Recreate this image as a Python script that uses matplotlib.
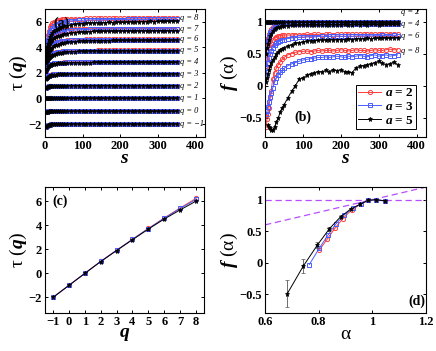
import numpy as np
import matplotlib

matplotlib.use("Agg")

import matplotlib.pyplot as plt
from matplotlib.ticker import FuncFormatter

plt.rcParams["font.family"] = ["Liberation Serif", "DejaVu Serif"]
plt.rcParams["font.weight"] = "bold"
plt.rcParams["mathtext.fontset"] = "custom"
plt.rcParams["mathtext.it"] = "Liberation Serif:italic:bold"
plt.rcParams["mathtext.rm"] = "Liberation Serif:bold"
plt.rcParams["mathtext.bf"] = "Liberation Serif:bold"

# ---------------------------------------------------------------- data
# window size s (shared by panels a and b)
S = [3, 5, 7, 10, 13, 16, 20, 25, 30, 35, 40, 45, 50,
     60, 70, 80, 90, 100, 110, 120, 130, 140, 150,
     160, 170, 180, 190, 200, 210, 220, 230, 240, 250,
     260, 270, 280, 290, 300, 310, 320, 330, 340, 350]

Q_VALUES = [-1, 0, 1, 2, 3, 4, 5, 6, 7, 8]

# tau(q, s), rows q = -1 .. 8
TAU_A2 = [
    [-2.20, -2.13, -2.09, -2.06, -2.04, -2.03, -2.02, -2.01, -2.01, -2.00, -2.00, -2.00, -2.00,
     -2.00, -2.00, -1.99, -2.00, -2.00, -2.00, -2.00, -1.99, -2.00, -2.00,
     -2.00, -2.00, -2.00, -1.99, -2.00, -2.00, -2.00, -2.00, -2.00, -1.99,
     -2.00, -2.00, -2.00, -2.00, -2.00, -2.00, -1.99, -2.00, -2.00, -2.00],
    [-1.03, -1.02, -1.01, -1.01, -1.00, -1.00, -1.00, -1.00, -1.00, -1.00, -1.00, -1.00, -1.00,
     -1.00, -1.00, -1.00, -0.99, -1.00, -1.00, -1.00, -1.00, -1.00, -1.00,
     -1.00, -0.99, -1.00, -1.00, -1.00, -1.00, -1.00, -1.00, -1.00, -1.00,
     -1.00, -1.00, -1.00, -1.00, -0.99, -1.00, -1.00, -1.00, -1.00, -1.00],
    [0.02, 0.01, 0.01, 0.00, 0.00, 0.00, 0.00, 0.00, 0.00, 0.00, 0.00, 0.00, 0.00,
     0.00, 0.00, 0.00, 0.00, 0.00, 0.01, 0.00, 0.00, 0.00, 0.00,
     0.00, 0.00, 0.00, 0.00, 0.00, 0.00, 0.00, 0.00, 0.01, 0.00,
     0.00, 0.00, 0.00, 0.00, 0.00, 0.00, 0.00, 0.00, 0.00, 0.00],
    [0.86, 0.91, 0.94, 0.96, 0.97, 0.98, 0.98, 0.99, 0.99, 0.99, 1.00, 1.00, 1.00,
     1.00, 1.00, 1.00, 1.00, 1.00, 1.00, 1.01, 1.00, 1.00, 1.00,
     1.00, 1.00, 1.00, 1.00, 1.00, 1.00, 1.00, 1.01, 1.00, 1.00,
     1.00, 1.00, 1.00, 1.00, 1.00, 1.00, 1.00, 1.00, 1.00, 1.00],
    [1.62, 1.71, 1.76, 1.80, 1.83, 1.85, 1.87, 1.88, 1.89, 1.90, 1.90, 1.91, 1.91,
     1.92, 1.92, 1.92, 1.93, 1.93, 1.93, 1.93, 1.93, 1.93, 1.93,
     1.93, 1.93, 1.93, 1.93, 1.93, 1.93, 1.93, 1.93, 1.93, 1.93,
     1.93, 1.93, 1.93, 1.93, 1.93, 1.93, 1.93, 1.93, 1.93, 1.93],
    [2.30, 2.45, 2.54, 2.61, 2.66, 2.69, 2.72, 2.75, 2.77, 2.78, 2.79, 2.80, 2.81,
     2.82, 2.83, 2.83, 2.84, 2.84, 2.84, 2.85, 2.85, 2.85, 2.85,
     2.85, 2.85, 2.85, 2.85, 2.85, 2.85, 2.85, 2.85, 2.85, 2.85,
     2.85, 2.85, 2.85, 2.85, 2.85, 2.85, 2.85, 2.85, 2.85, 2.85],
    [2.90, 3.08, 3.20, 3.31, 3.39, 3.45, 3.51, 3.56, 3.60, 3.63, 3.65, 3.67, 3.68,
     3.70, 3.71, 3.72, 3.73, 3.73, 3.74, 3.74, 3.74, 3.75, 3.75,
     3.75, 3.75, 3.75, 3.75, 3.75, 3.75, 3.75, 3.75, 3.75, 3.75,
     3.75, 3.75, 3.75, 3.75, 3.75, 3.75, 3.75, 3.75, 3.75, 3.75],
    [3.35, 3.60, 3.78, 3.95, 4.07, 4.16, 4.25, 4.33, 4.39, 4.44, 4.47, 4.50, 4.52,
     4.55, 4.57, 4.58, 4.59, 4.60, 4.61, 4.61, 4.62, 4.62, 4.62,
     4.63, 4.63, 4.63, 4.63, 4.63, 4.63, 4.63, 4.63, 4.63, 4.63,
     4.63, 4.63, 4.63, 4.63, 4.63, 4.63, 4.63, 4.63, 4.63, 4.63],
    [3.75, 4.10, 4.35, 4.60, 4.78, 4.90, 5.02, 5.12, 5.20, 5.25, 5.29, 5.32, 5.34,
     5.37, 5.39, 5.41, 5.42, 5.43, 5.44, 5.44, 5.45, 5.45, 5.45,
     5.46, 5.46, 5.46, 5.46, 5.46, 5.46, 5.46, 5.46, 5.46, 5.46,
     5.46, 5.46, 5.46, 5.46, 5.46, 5.46, 5.46, 5.46, 5.46, 5.46],
    [4.10, 4.60, 4.95, 5.30, 5.55, 5.72, 5.87, 5.99, 6.07, 6.12, 6.15, 6.17, 6.19,
     6.21, 6.22, 6.23, 6.24, 6.24, 6.25, 6.25, 6.25, 6.26, 6.26,
     6.26, 6.26, 6.26, 6.26, 6.26, 6.26, 6.26, 6.26, 6.26, 6.26,
     6.26, 6.26, 6.26, 6.26, 6.26, 6.26, 6.26, 6.26, 6.26, 6.26],
]

TAU_A3 = [
    [-2.21, -2.14, -2.10, -2.06, -2.04, -2.03, -2.02, -2.02, -2.01, -2.01, -2.00, -2.00, -2.00,
     -2.00, -2.00, -2.00, -2.00, -1.99, -2.00, -2.00, -2.00, -2.00, -2.00,
     -2.00, -2.00, -2.00, -2.00, -2.00, -1.99, -2.00, -2.00, -2.00, -2.00,
     -2.00, -2.00, -2.00, -1.99, -2.00, -2.00, -2.00, -2.00, -2.00, -2.00],
    [-1.03, -1.02, -1.01, -1.01, -1.01, -1.00, -1.00, -1.00, -1.00, -1.00, -1.00, -1.00, -1.00,
     -1.00, -1.00, -1.00, -1.00, -1.00, -1.00, -1.00, -1.00, -0.99, -1.00,
     -1.00, -1.00, -1.00, -1.00, -1.00, -1.00, -1.00, -1.00, -1.00, -1.00,
     -1.00, -1.00, -1.00, -1.00, -1.00, -1.00, -1.00, -1.00, -1.00, -1.00],
    [0.02, 0.01, 0.01, 0.01, 0.00, 0.00, 0.00, 0.00, 0.00, 0.00, 0.00, 0.00, 0.00,
     0.00, 0.00, 0.00, 0.00, 0.00, 0.00, 0.00, 0.00, 0.00, 0.00,
     0.00, 0.00, 0.00, 0.00, 0.00, 0.00, 0.00, 0.00, 0.00, 0.00,
     0.00, 0.00, 0.00, 0.00, 0.00, 0.00, 0.00, 0.00, 0.00, 0.00],
    [0.84, 0.90, 0.93, 0.95, 0.96, 0.97, 0.98, 0.98, 0.99, 0.99, 0.99, 1.00, 1.00,
     1.00, 1.00, 1.00, 1.00, 1.00, 1.00, 1.00, 1.00, 1.00, 1.00,
     1.00, 1.00, 1.00, 1.00, 1.00, 1.00, 1.00, 1.00, 1.00, 1.00,
     1.00, 1.00, 1.00, 1.00, 1.00, 1.00, 1.00, 1.00, 1.00, 1.00],
    [1.58, 1.68, 1.74, 1.79, 1.82, 1.84, 1.86, 1.88, 1.89, 1.89, 1.90, 1.90, 1.91,
     1.91, 1.92, 1.92, 1.92, 1.92, 1.93, 1.93, 1.93, 1.93, 1.93,
     1.93, 1.93, 1.93, 1.93, 1.93, 1.93, 1.93, 1.93, 1.93, 1.93,
     1.93, 1.93, 1.93, 1.93, 1.93, 1.93, 1.93, 1.93, 1.93, 1.93],
    [2.25, 2.40, 2.50, 2.58, 2.63, 2.67, 2.70, 2.73, 2.75, 2.77, 2.78, 2.79, 2.80,
     2.81, 2.82, 2.83, 2.83, 2.83, 2.84, 2.84, 2.84, 2.84, 2.84,
     2.84, 2.84, 2.84, 2.84, 2.84, 2.84, 2.84, 2.84, 2.84, 2.84,
     2.84, 2.84, 2.84, 2.84, 2.84, 2.84, 2.84, 2.84, 2.84, 2.84],
    [2.85, 3.02, 3.14, 3.26, 3.35, 3.41, 3.48, 3.54, 3.58, 3.61, 3.64, 3.66, 3.67,
     3.69, 3.70, 3.71, 3.72, 3.72, 3.73, 3.73, 3.73, 3.74, 3.74,
     3.74, 3.74, 3.74, 3.74, 3.74, 3.74, 3.74, 3.74, 3.74, 3.74,
     3.74, 3.74, 3.74, 3.74, 3.74, 3.74, 3.74, 3.74, 3.74, 3.74],
    [3.30, 3.52, 3.69, 3.86, 3.98, 4.08, 4.17, 4.26, 4.33, 4.38, 4.42, 4.45, 4.48,
     4.51, 4.53, 4.55, 4.56, 4.57, 4.58, 4.58, 4.59, 4.59, 4.59,
     4.60, 4.60, 4.60, 4.60, 4.60, 4.60, 4.60, 4.60, 4.60, 4.60,
     4.60, 4.60, 4.60, 4.60, 4.60, 4.60, 4.60, 4.60, 4.60, 4.60],
    [3.65, 3.95, 4.17, 4.40, 4.57, 4.70, 4.83, 4.95, 5.04, 5.11, 5.16, 5.20, 5.23,
     5.28, 5.31, 5.34, 5.36, 5.37, 5.38, 5.39, 5.40, 5.40, 5.41,
     5.41, 5.41, 5.42, 5.42, 5.42, 5.42, 5.42, 5.42, 5.42, 5.42,
     5.42, 5.42, 5.42, 5.42, 5.42, 5.42, 5.42, 5.42, 5.42, 5.42],
    [3.90, 4.30, 4.60, 4.92, 5.15, 5.32, 5.49, 5.64, 5.75, 5.83, 5.89, 5.93, 5.97,
     6.02, 6.05, 6.08, 6.10, 6.11, 6.12, 6.13, 6.14, 6.14, 6.15,
     6.15, 6.15, 6.16, 6.16, 6.16, 6.16, 6.17, 6.17, 6.17, 6.17,
     6.17, 6.17, 6.17, 6.17, 6.17, 6.17, 6.17, 6.17, 6.17, 6.17],
]

TAU_A5 = [
    [-2.24, -2.16, -2.11, -2.07, -2.05, -2.03, -2.02, -2.02, -2.01, -2.01, -2.00, -2.00, -2.00,
     -2.00, -2.00, -2.00, -2.00, -2.00, -2.00, -1.99, -2.00, -2.00, -2.00,
     -2.00, -2.00, -2.00, -2.00, -2.00, -2.00, -2.00, -1.99, -2.00, -2.00,
     -2.00, -2.00, -2.00, -2.00, -2.00, -2.00, -2.00, -2.00, -1.99, -2.00],
    [-1.04, -1.02, -1.02, -1.01, -1.01, -1.00, -1.00, -1.00, -1.00, -1.00, -1.00, -1.00, -1.00,
     -1.00, -1.00, -1.00, -1.00, -1.00, -1.00, -1.00, -1.00, -1.00, -1.00,
     -1.00, -1.00, -1.00, -1.00, -0.99, -1.00, -1.00, -1.00, -1.00, -1.00,
     -1.00, -1.00, -1.00, -1.00, -1.00, -1.00, -1.00, -1.00, -1.00, -1.00],
    [0.02, 0.01, 0.01, 0.01, 0.00, 0.00, 0.00, 0.00, 0.00, 0.00, 0.00, 0.00, 0.00,
     0.00, 0.00, 0.00, 0.00, 0.00, 0.00, 0.00, 0.00, 0.00, 0.00,
     0.00, 0.00, 0.00, 0.00, 0.00, 0.00, 0.00, 0.00, 0.00, 0.00,
     0.00, 0.00, 0.00, 0.00, 0.00, 0.00, 0.00, 0.00, 0.00, 0.00],
    [0.80, 0.87, 0.91, 0.94, 0.95, 0.96, 0.97, 0.98, 0.98, 0.98, 0.99, 0.99, 0.99,
     0.99, 0.99, 0.99, 0.99, 0.99, 0.99, 0.99, 0.99, 0.99, 0.99,
     0.99, 0.99, 0.99, 0.99, 0.99, 0.99, 0.99, 0.99, 0.99, 0.99,
     0.99, 0.99, 0.99, 0.99, 0.99, 0.99, 0.99, 0.99, 0.99, 0.99],
    [1.50, 1.62, 1.69, 1.75, 1.79, 1.81, 1.84, 1.85, 1.86, 1.87, 1.88, 1.88, 1.89,
     1.89, 1.90, 1.90, 1.90, 1.90, 1.91, 1.91, 1.91, 1.91, 1.91,
     1.91, 1.91, 1.91, 1.91, 1.91, 1.91, 1.91, 1.91, 1.91, 1.91,
     1.91, 1.91, 1.91, 1.91, 1.91, 1.91, 1.91, 1.91, 1.91, 1.91],
    [2.15, 2.32, 2.43, 2.52, 2.58, 2.62, 2.66, 2.69, 2.71, 2.73, 2.74, 2.75, 2.76,
     2.77, 2.78, 2.79, 2.79, 2.80, 2.80, 2.80, 2.81, 2.81, 2.81,
     2.81, 2.81, 2.81, 2.81, 2.81, 2.81, 2.81, 2.81, 2.81, 2.81,
     2.81, 2.81, 2.81, 2.81, 2.81, 2.81, 2.81, 2.81, 2.81, 2.81],
    [2.75, 2.90, 3.01, 3.13, 3.22, 3.29, 3.36, 3.43, 3.48, 3.52, 3.55, 3.58, 3.60,
     3.63, 3.65, 3.66, 3.67, 3.68, 3.69, 3.69, 3.69, 3.70, 3.70,
     3.70, 3.70, 3.70, 3.70, 3.70, 3.70, 3.70, 3.70, 3.70, 3.70,
     3.70, 3.70, 3.70, 3.70, 3.70, 3.70, 3.70, 3.70, 3.70, 3.70],
    [3.15, 3.35, 3.50, 3.66, 3.78, 3.87, 3.97, 4.07, 4.14, 4.20, 4.25, 4.29, 4.32,
     4.37, 4.41, 4.44, 4.46, 4.48, 4.49, 4.50, 4.51, 4.51, 4.52,
     4.52, 4.52, 4.53, 4.53, 4.53, 4.53, 4.53, 4.54, 4.53, 4.54,
     4.54, 4.54, 4.54, 4.54, 4.54, 4.54, 4.54, 4.54, 4.54, 4.54],
    [3.45, 3.75, 3.95, 4.15, 4.32, 4.45, 4.58, 4.70, 4.79, 4.86, 4.91, 4.96, 5.00,
     5.06, 5.10, 5.14, 5.17, 5.19, 5.21, 5.22, 5.23, 5.24, 5.25,
     5.25, 5.26, 5.26, 5.27, 5.27, 5.28, 5.27, 5.28, 5.29, 5.28,
     5.29, 5.29, 5.30, 5.29, 5.30, 5.30, 5.30, 5.30, 5.30, 5.30],
    [3.60, 4.00, 4.25, 4.55, 4.76, 4.92, 5.08, 5.23, 5.35, 5.44, 5.51, 5.57, 5.62,
     5.69, 5.74, 5.78, 5.81, 5.84, 5.86, 5.87, 5.89, 5.90, 5.89,
     5.91, 5.93, 5.92, 5.94, 5.95, 5.93, 5.96, 5.97, 5.95, 5.98,
     6.00, 5.98, 6.01, 6.00, 6.02, 6.01, 6.03, 6.02, 6.04, 6.03],
]

# f(alpha, s), rows q = 2, 4, 6, 8
Q_B = [2, 4, 6, 8]
F_A2 = [
    [1.00, 1.00, 1.00, 1.00, 1.00, 1.00, 1.00, 1.00, 1.00, 1.00, 1.00, 1.00, 1.00,
     1.00, 1.00, 1.00, 1.00, 1.00, 1.00, 1.00, 1.00, 1.00, 1.00,
     1.00, 1.00, 1.00, 1.00, 1.00, 1.00, 1.00, 1.00, 1.00, 1.00,
     1.00, 1.00, 1.00, 1.00, 1.00, 1.00, 1.00, 1.00, 1.00, 1.00],
    [0.62, 0.69, 0.75, 0.81, 0.86, 0.89, 0.92, 0.94, 0.95, 0.96, 0.965, 0.97, 0.97,
     0.975, 0.975, 0.98, 0.98, 0.98, 0.98, 0.98, 0.98, 0.98, 0.98,
     0.98, 0.98, 0.98, 0.98, 0.98, 0.98, 0.98, 0.98, 0.98, 0.98,
     0.98, 0.98, 0.98, 0.98, 0.98, 0.98, 0.98, 0.98, 0.98, 0.98],
    [0.30, 0.42, 0.50, 0.58, 0.63, 0.67, 0.71, 0.74, 0.76, 0.77, 0.78, 0.785, 0.79,
     0.79, 0.79, 0.795, 0.79, 0.795, 0.80, 0.795, 0.80, 0.80, 0.79,
     0.80, 0.80, 0.795, 0.80, 0.80, 0.80, 0.805, 0.80, 0.80, 0.80,
     0.805, 0.80, 0.81, 0.80, 0.805, 0.81, 0.80, 0.81, 0.81, 0.81],
    [-0.65, -0.52, -0.45, -0.35, -0.20, -0.08, 0.10, 0.20, 0.28, 0.33, 0.37, 0.41, 0.44,
     0.48, 0.50, 0.52, 0.53, 0.535, 0.54, 0.53, 0.54, 0.55, 0.54,
     0.55, 0.55, 0.54, 0.55, 0.56, 0.55, 0.54, 0.55, 0.56, 0.55,
     0.55, 0.54, 0.55, 0.56, 0.55, 0.55, 0.56, 0.57, 0.56, 0.56],
]
F_A3 = [
    [1.00, 1.00, 1.00, 1.00, 1.00, 1.00, 1.00, 1.00, 1.00, 1.00, 1.00, 1.00, 1.00,
     1.00, 1.00, 1.00, 1.00, 1.00, 1.00, 1.00, 1.00, 1.00, 1.00,
     1.00, 1.00, 1.00, 1.00, 1.00, 1.00, 1.00, 1.00, 1.00, 1.00,
     1.00, 1.00, 1.00, 1.00, 1.00, 1.00, 1.00, 1.00, 1.00, 1.00],
    [0.55, 0.63, 0.70, 0.77, 0.82, 0.86, 0.89, 0.915, 0.93, 0.94, 0.945, 0.95, 0.955,
     0.96, 0.96, 0.96, 0.965, 0.965, 0.965, 0.97, 0.97, 0.97, 0.97,
     0.97, 0.97, 0.97, 0.97, 0.97, 0.97, 0.97, 0.97, 0.97, 0.97,
     0.97, 0.97, 0.97, 0.97, 0.97, 0.97, 0.97, 0.97, 0.97, 0.97],
    [0.15, 0.27, 0.35, 0.43, 0.49, 0.54, 0.59, 0.63, 0.66, 0.68, 0.70, 0.71, 0.72,
     0.735, 0.745, 0.75, 0.755, 0.76, 0.76, 0.765, 0.76, 0.765, 0.77,
     0.765, 0.77, 0.77, 0.775, 0.77, 0.77, 0.775, 0.77, 0.775, 0.78,
     0.775, 0.78, 0.775, 0.78, 0.78, 0.785, 0.78, 0.78, 0.785, 0.78],
    [-0.45, -0.40, -0.33, -0.25, -0.18, -0.12, -0.04, 0.05, 0.12, 0.17, 0.21, 0.24, 0.27,
     0.31, 0.34, 0.36, 0.38, 0.40, 0.41, 0.42, 0.43, 0.44, 0.44,
     0.45, 0.44, 0.45, 0.46, 0.45, 0.44, 0.46, 0.45, 0.46, 0.47,
     0.46, 0.45, 0.47, 0.48, 0.46, 0.47, 0.48, 0.46, 0.47, 0.48],
]
F_A5 = [
    [1.00, 1.00, 1.00, 1.00, 1.00, 1.00, 1.00, 1.00, 1.00, 1.00, 1.00, 1.00, 1.00,
     1.00, 1.00, 1.00, 1.00, 1.00, 1.00, 1.00, 1.00, 1.00, 1.00,
     1.00, 1.00, 1.00, 1.00, 1.00, 1.00, 1.00, 1.00, 1.00, 1.00,
     1.00, 1.00, 1.00, 1.00, 1.00, 1.00, 1.00, 1.00, 1.00, 1.00],
    [0.50, 0.58, 0.65, 0.72, 0.77, 0.81, 0.85, 0.88, 0.90, 0.91, 0.92, 0.925, 0.93,
     0.935, 0.94, 0.94, 0.945, 0.945, 0.945, 0.95, 0.95, 0.945, 0.95,
     0.95, 0.95, 0.95, 0.95, 0.95, 0.955, 0.95, 0.95, 0.955, 0.95,
     0.955, 0.95, 0.955, 0.955, 0.95, 0.955, 0.955, 0.955, 0.955, 0.955],
    [0.05, 0.12, 0.18, 0.25, 0.30, 0.35, 0.40, 0.45, 0.49, 0.52, 0.55, 0.57, 0.59,
     0.62, 0.64, 0.66, 0.67, 0.68, 0.69, 0.70, 0.70, 0.71, 0.71,
     0.71, 0.72, 0.71, 0.72, 0.72, 0.72, 0.73, 0.72, 0.73, 0.73,
     0.73, 0.74, 0.73, 0.74, 0.74, 0.74, 0.75, 0.74, 0.75, 0.75],
    [np.nan, np.nan, -0.62, -0.65, -0.66, -0.70, -0.70, -0.64, -0.57, -0.50, -0.41, -0.35, -0.30,
     -0.19, -0.09, 0.00, 0.10, 0.12, 0.16, 0.18, 0.20, 0.22, 0.21,
     0.24, 0.22, 0.25, 0.23, 0.25, 0.22, 0.21, 0.20, 0.28, 0.30,
     0.31, 0.33, 0.34, 0.36, 0.38, 0.35, 0.33, 0.34, 0.37, 0.33],
]

# panel (c): tau(q) at large s
TAU_Q_A2 = [-2.0, -1.0, 0.0, 1.0, 1.93, 2.85, 3.75, 4.63, 5.46, 6.26]
TAU_Q_A3 = [-2.0, -1.0, 0.0, 1.0, 1.93, 2.84, 3.74, 4.60, 5.42, 6.17]
TAU_Q_A5 = [-2.0, -1.0, 0.0, 0.99, 1.91, 2.81, 3.70, 4.54, 5.30, 6.03]

# panel (d): multifractal spectrum
ALPHA_A2 = [0.802, 0.831, 0.861, 0.890, 0.923, 0.958, 0.985, 1.015, 1.047]
F_D_A2 = [0.20, 0.37, 0.55, 0.70, 0.84, 0.93, 0.99, 1.00, 0.98]
ALPHA_A3 = [0.765, 0.802, 0.835, 0.865, 0.896, 0.929, 0.957, 0.985, 1.015, 1.047]
F_D_A3 = [-0.03, 0.23, 0.44, 0.62, 0.76, 0.87, 0.93, 0.99, 1.00, 0.98]
ALPHA_A5 = [0.683, 0.743, 0.795, 0.840, 0.882, 0.919, 0.955, 0.984, 1.014, 1.047]
F_D_A5 = [-0.49, -0.05, 0.28, 0.54, 0.73, 0.85, 0.93, 0.99, 1.00, 0.98]
ERR_D_A5 = [0.22, 0.11, 0.05, 0.03, 0.02, 0.02, 0.01, 0.01, 0.01, 0.01]

LABELS = ["$a$ = 2", "$a$ = 3", "$a$ = 5"]

# ---------------------------------------------------------------- style
RED = "#ff3b3b"
BLUE = "#4a5cff"
BLACK = "black"
STYLES = [
    dict(color=RED, marker="o", mfc="none", ms=3.0, mew=0.7, lw=0.7),
    dict(color=BLUE, marker="s", mfc="none", ms=2.5, mew=0.7, lw=0.7),
    dict(color=BLACK, marker="*", ms=3.6, mew=0.5, lw=0.7),
]
g = FuncFormatter(lambda v, p: f"{v:g}".replace("-", "\u2212"))


def style_ax(ax):
    ax.tick_params(direction="in", length=2.5, width=0.7, labelsize=9,
                   top=True, right=True, pad=2)
    for sp in ax.spines.values():
        sp.set_linewidth(0.8)


fig = plt.figure(figsize=(4.36, 3.51), dpi=100)
ax_a = fig.add_axes([0.103, 0.610, 0.367, 0.365])
ax_b = fig.add_axes([0.608, 0.610, 0.369, 0.365])
ax_c = fig.add_axes([0.103, 0.108, 0.365, 0.359])
ax_d = fig.add_axes([0.608, 0.108, 0.369, 0.359])

# (a)
for data, st in zip([TAU_A2, TAU_A3, TAU_A5], STYLES):
    for row in data:
        assert len(row) == len(S)
        ax_a.plot(S, row, **st)
for q, row in zip(Q_VALUES, TAU_A2):
    ax_a.text(358, row[-1], f"q = {q}".replace("-", "\u2212"), fontsize=6,
              style="italic", weight="normal", va="center", clip_on=True)
ax_a.set_xlim(0, 425)
ax_a.set_ylim(-3, 7)
ax_a.set_xticks([0, 100, 200, 300, 400])
ax_a.set_yticks([-2, 0, 2, 4, 6])
ax_a.yaxis.set_major_formatter(g)
ax_a.set_xlabel("$s$", fontsize=14, labelpad=-1)
ax_a.set_ylabel("τ ($q$)", fontsize=14, labelpad=0)
ax_a.text(0.05, 0.89, "(a)", transform=ax_a.transAxes, fontsize=10, va="center")
style_ax(ax_a)

# (b)
lines = []
for data, st, lab in zip([F_A2, F_A3, F_A5], STYLES, LABELS):
    for i, row in enumerate(data):
        assert len(row) == len(S)
        ln, = ax_b.plot(S, row, **st)
    lines.append(ln)
for q, y in zip(Q_B, [1.15, 0.97, 0.78, 0.54]):
    ax_b.text(358, y, f"q = {q}", fontsize=6, style="italic", weight="normal",
              va="center", clip_on=True)
ax_b.set_xlim(0, 425)
ax_b.set_ylim(-0.8, 1.2)
ax_b.set_xticks([0, 100, 200, 300, 400])
ax_b.set_yticks([-0.5, 0, 0.5, 1])
ax_b.yaxis.set_major_formatter(g)
ax_b.set_xlabel("$s$", fontsize=14, labelpad=-1)
ax_b.set_ylabel("$f$ (α)", fontsize=14, labelpad=0)
ax_b.text(0.18, 0.15, "(b)", transform=ax_b.transAxes, fontsize=10, va="center")
leg = ax_b.legend(lines, LABELS, loc="lower right", bbox_to_anchor=(0.94, 0.06),
                  fontsize=9.5, frameon=True, fancybox=False, edgecolor="black",
                  framealpha=1, handlelength=1.7, borderpad=0.2,
                  labelspacing=0.1, handletextpad=0.3, borderaxespad=0)
leg.get_frame().set_linewidth(0.7)
style_ax(ax_b)

# (c)
for vals, st in zip([TAU_Q_A2, TAU_Q_A3, TAU_Q_A5], STYLES):
    ax_c.plot(Q_VALUES, vals, **st)
ax_c.set_xlim(-1.5, 8.5)
ax_c.set_ylim(-3.3, 7.2)
ax_c.set_xticks(Q_VALUES)
ax_c.set_yticks([-2, 0, 2, 4, 6])
ax_c.xaxis.set_major_formatter(g)
ax_c.yaxis.set_major_formatter(g)
ax_c.set_xlabel("$q$", fontsize=14, labelpad=-1)
ax_c.set_ylabel("τ ($q$)", fontsize=14, labelpad=0)
ax_c.text(0.05, 0.89, "(c)", transform=ax_c.transAxes, fontsize=10, va="center")
style_ax(ax_c)

# (d)
ax_d.axhline(1, color="#b84dff", ls="--", lw=0.9, dashes=(5, 3))
ax_d.axline((0, 0), slope=1, color="#b84dff", ls="--", lw=0.9, dashes=(5, 3))
ax_d.plot(ALPHA_A2, F_D_A2, **STYLES[0])
ax_d.plot(ALPHA_A3, F_D_A3, **STYLES[1])
ax_d.errorbar(ALPHA_A5, F_D_A5, yerr=ERR_D_A5, ecolor="#555555", elinewidth=0.6,
              capsize=1.5, capthick=0.6, **STYLES[2])
ax_d.set_xlim(0.6, 1.2)
ax_d.set_ylim(-0.8, 1.2)
ax_d.set_xticks([0.6, 0.8, 1.0, 1.2])
ax_d.set_yticks([-0.5, 0, 0.5, 1])
ax_d.xaxis.set_major_formatter(g)
ax_d.yaxis.set_major_formatter(g)
ax_d.set_xlabel("α", fontsize=14, labelpad=-1, weight="normal")
ax_d.set_ylabel("$f$ (α)", fontsize=14, labelpad=0)
ax_d.text(0.89, 0.09, "(d)", transform=ax_d.transAxes, fontsize=10, va="center")
style_ax(ax_d)

fig.savefig("out.png", dpi=100)
